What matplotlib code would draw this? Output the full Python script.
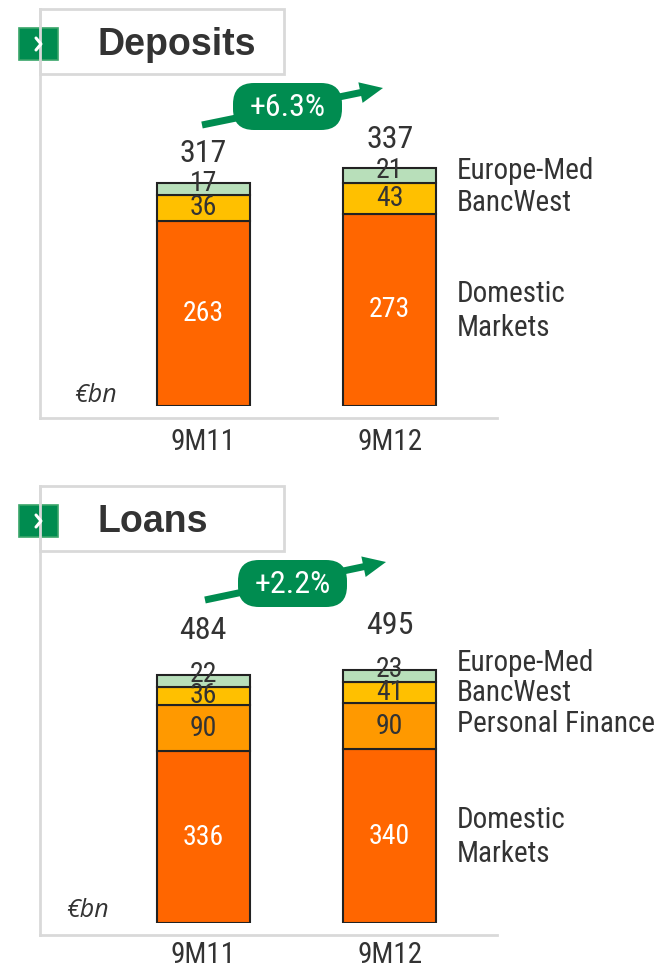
import matplotlib
matplotlib.use("Agg")
import matplotlib.pyplot as plt
from matplotlib.patches import FancyBboxPatch, Rectangle, FancyArrow

# data (EUR bn)
periods = ["9M11", "9M12"]

dep_domestic = [263, 273]
dep_bancwest = [36, 43]
dep_europe = [17, 21]
dep_totals = [317, 337]
dep_growth = "+6.3%"

loan_domestic = [336, 340]
loan_pf = [90, 90]
loan_bancwest = [36, 41]
loan_europe = [22, 23]
loan_totals = [484, 495]
loan_growth = "+2.2%"

NARROW = ["Roboto Condensed", "DejaVu Sans"]
TXT = "#333333"
GREEN = "#008C50"
GRID = "#d9d9d9"
C_DOM = "#FF6600"
C_PF = "#FF9900"
C_BW = "#FFC000"
C_EU = "#B8DFBA"

W, H = 661, 971
fig = plt.figure(figsize=(W / 100, H / 100), dpi=100)

# overlay axes in pixel coords for the frames and badges
ov = fig.add_axes([0, 0, 1, 1], zorder=0)
ov.set_xlim(0, W)
ov.set_ylim(H, 0)
ov.axis("off")


def ntext(ax, x, y, s, **kw):
    kw.setdefault("family", NARROW)
    kw.setdefault("color", TXT)
    return ax.text(x, y, s, **kw)


def px_axes(x0, y0, x1, y1):
    return fig.add_axes([x0 / W, 1 - y1 / H, (x1 - x0) / W, (y1 - y0) / H], zorder=2)


def panel(top, title, bottom, growth, badge_xy, arrow_from, arrow_to):
    # gray frame
    ov.plot([40, 40], [top, bottom], color=GRID, lw=2)
    ov.plot([40, 497], [bottom, bottom], color=GRID, lw=2)
    ov.add_patch(Rectangle((40, top), 244, 65, fill=False, ec=GRID, lw=2))
    # green icon with chevron
    ov.add_patch(Rectangle((19, top + 19), 39, 32, fc=GREEN, ec="#3aa56a", lw=1.2))
    ov.plot([36, 41, 36], [top + 29, top + 35, top + 41], color="white", lw=2.2,
            solid_capstyle="round")
    ov.text(97, top + 46, title, color=TXT, fontsize=27, fontweight="bold",
            family="Liberation Sans", ha="left", va="baseline")
    # growth arrow
    ov.add_patch(FancyArrow(arrow_from[0], arrow_from[1],
                            arrow_to[0] - arrow_from[0], arrow_to[1] - arrow_from[1],
                            width=7, head_width=21, head_length=23,
                            length_includes_head=True, color=GREEN, lw=0))
    bx, by = badge_xy
    ov.add_patch(FancyBboxPatch((bx - 44.5, by - 13.5), 89, 27,
                                boxstyle="round,pad=10,rounding_size=21",
                                fc=GREEN, ec="none"))
    ntext(ov, bx, by + 1, growth, color="white", fontsize=23, ha="center", va="center")


panel(9, "Deposits", 418, dep_growth, (287.5, 106.5), (202, 125), (383, 88))
panel(486, "Loans", 935, loan_growth, (292.5, 583.5), (205, 600), (386, 562))


def stacked(ax, layers, colors, totals, ymax, tot_off, small_up, tick_pad):
    x = range(len(periods))
    base = [0] * len(periods)
    for i, (vals, col) in enumerate(zip(layers, colors)):
        ax.bar(x, vals, 0.5, bottom=base, color=col, edgecolor="#222222", lw=1.5)
        for xi, v, b in zip(x, vals, base):
            off = small_up if i == len(layers) - 1 else 0
            ax.annotate(str(v), (xi, b + v / 2), xytext=(0, off), textcoords="offset points",
                        ha="center", va="center", fontsize=20, family=NARROW,
                        color="white" if i == 0 else TXT)
        base = [b + v for b, v in zip(base, vals)]
    for xi, t in zip(x, totals):
        ax.annotate(str(t), (xi, t), xytext=(0, tot_off), textcoords="offset points",
                    ha="center", va="center", fontsize=23, family=NARROW, color=TXT)
    ax.set_xlim(-0.5, 1.5)
    ax.set_ylim(0, ymax)
    ax.set_xticks(list(x))
    ax.set_xticklabels(periods, fontsize=21, family=NARROW, color=TXT)
    ax.tick_params(length=0, pad=tick_pad)
    for s in ax.spines.values():
        s.set_visible(False)
    ax.set_yticks([])
    ax.patch.set_alpha(0)


ax1 = px_axes(110, 124, 483, 406)
stacked(ax1, [dep_domestic, dep_bancwest, dep_europe], [C_DOM, C_BW, C_EU],
        dep_totals, 400, 21, 4, 16)
ntext(ax1, -0.58, 15, "\u20acbn", fontsize=18, style="italic", family="Open Sans",
      ha="center", va="center")

ax2 = px_axes(110, 616, 483, 923)
stacked(ax2, [loan_domestic, loan_pf, loan_bancwest, loan_europe],
        [C_DOM, C_PF, C_BW, C_EU], loan_totals, 600, 32, 5, 13)
ntext(ax2, -0.62, 25, "\u20acbn", fontsize=18, style="italic", family="Open Sans",
      ha="center", va="center")

# segment names on the right
for ypx, lab in [(171, "Europe-Med"), (203, "BancWest"), (311, "Domestic\nMarkets")]:
    ntext(ov, 457, ypx, lab, fontsize=21, ha="left", va="center", linespacing=1.25)
for ypx, lab in [(663, "Europe-Med"), (693, "BancWest"), (724, "Personal Finance"),
                 (837, "Domestic\nMarkets")]:
    ntext(ov, 457, ypx, lab, fontsize=21, ha="left", va="center", linespacing=1.25)

fig.savefig("out.png", dpi=100)
